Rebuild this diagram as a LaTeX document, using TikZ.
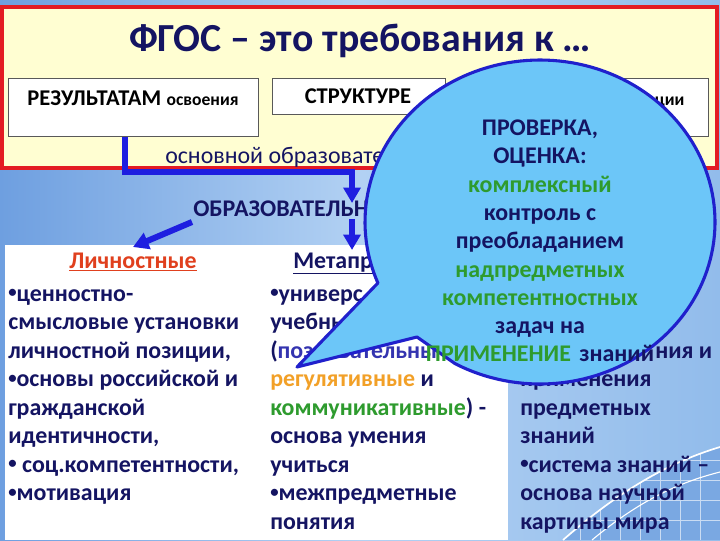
\documentclass[tikz,border=0pt]{standalone}
\usepackage{fontspec}
\setmainfont{Carlito}
\usepackage{xcolor}
\usetikzlibrary{arrows.meta}
\definecolor{navytext}{HTML}{141462}
\definecolor{greentext}{HTML}{2E9B2E}
\definecolor{orangetext}{HTML}{F2A027}
\definecolor{redtext}{HTML}{E0401E}
\definecolor{cogtext}{HTML}{3434B0}
\definecolor{arrowblue}{HTML}{1E1EE0}
\definecolor{callfill}{HTML}{6CC6F8}
\definecolor{callline}{HTML}{2020CC}
\definecolor{paleyellow}{HTML}{FFFED2}
\definecolor{framered}{HTML}{E31B23}
\definecolor{bgleft}{HTML}{6E9FE0}
\definecolor{bgmid}{HTML}{B2D1F3}
\definecolor{bgright}{HTML}{92BCEB}
\definecolor{bgdeep}{HTML}{7AA8E2}
\newcommand{\dotb}{\raisebox{0.3ex}{\scalebox{0.7}{•}}}

\begin{document}
\begin{tikzpicture}[x=0.025cm,y=-0.025cm,
  txt/.style={font=\fontsize{17}{20}\selectfont\bfseries,text=navytext,inner sep=0pt},
  whitebox/.style={draw=gray!70!black,fill=white,line width=0.6pt,inner sep=0pt,anchor=north west},
  bluearrow/.style={draw=arrowblue,line width=4.3pt,-{Triangle[width=12pt,length=11pt]}},
  gridline/.style={draw=white!60!bgdeep,line width=0.4pt}]
\useasboundingbox (0,0) rectangle (720,540);
% background
\shade[left color=bgleft,right color=bgright,middle color=bgmid] (0,0) rectangle (720,540);
\fill[bgdeep] (563,540) .. controls (620,490) and (670,462) .. (720,447) -- (720,540) -- cycle;
\begin{scope}
\clip (563,540) .. controls (620,490) and (670,462) .. (720,447) -- (720,540) -- cycle;
\foreach \x in {580,600,...,720} \draw[gridline] (\x,420) -- (\x,540);
\foreach \y in {440,460,...,540} \draw[gridline] (540,\y) -- (720,\y);
\end{scope}
\draw[white,line width=1.2pt] (563,540) .. controls (620,490) and (670,462) .. (720,447);
\draw[white,line width=0.8pt] (592,540) .. controls (640,500) and (680,482) .. (720,472);
\fill[white] (5,245) rectangle (508,540);
% requirements frame
\draw[framered,line width=2.2pt,fill=paleyellow] (2,7) rectangle (717,168);
\node[txt,font=\fontsize{28.3}{32}\selectfont\bfseries,anchor=base] (title) at (360,51) {ФГОС – это требования к …};
\node[whitebox,minimum width=6.25cm,minimum height=1.45cm] (resbox) at (8,78) {};
\node[whitebox,minimum width=4.325cm,minimum height=0.9cm] (strbox) at (272,78) {};
\node[whitebox,minimum width=6.3cm,minimum height=1.45cm] (condbox) at (456,78) {};
\node[txt,text=black,anchor=base] (restxt) at (133,105) {{\fontsize{16}{19}\selectfont РЕЗУЛЬТАТАМ} {\fontsize{12.5}{15}\selectfont освоения}};
\node[txt,text=black,font=\fontsize{16}{19}\selectfont\bfseries,anchor=base] (strtxt) at (358,103) {СТРУКТУРЕ};
\node[txt,text=black,font=\fontsize{12.5}{15}\selectfont\bfseries,anchor=base west] (condtxt) at (646,105) {ации};
\node[txt,font=\fontsize{17}{20}\selectfont,anchor=base west] (oop) at (165,163) {основной образовате};
% results
\node[txt,anchor=base west] (edu) at (193,216) {ОБРАЗОВАТЕЛЬН};
\coordinate (eduin) at (352,203);
\coordinate (eduout) at (352,219);
\coordinate (metain) at (352,250);
\coordinate (eduleft) at (192,222);
\coordinate (lichin) at (133,247);
\draw[bluearrow] ([xshift=-0.2cm]resbox.south) |- (352,172) -- (eduin);
\draw[bluearrow] (eduout) -- (metain);
\draw[bluearrow] (eduleft) -- (lichin);
% columns
\node[txt,text=redtext,anchor=base] (lich) at (133,268) {\underline{Личностные}};
\node[txt,anchor=base west] (meta) at (293,268) {\underline{Метапр}};
\foreach \t [count=\i] in {\dotb ценностно-,смысловые установки,{личностной позиции,},\dotb основы российской и,гражданской,{идентичности,},{\dotb\ соц.компетентности,},\dotb мотивация}
  \node[txt,anchor=base west] (lich\i) at (8,{301+28.5*(\i-1)}) {\t};
\foreach \t [count=\i] in {\dotb универс,учебны,{(\textcolor{cogtext}{познавательны}},{\textcolor{orangetext}{регулятивные} и},{\textcolor{greentext}{коммуникативные}) -},основа умения,учиться,\dotb межпредметные,понятия}
  \node[txt,anchor=base west] (meta\i) at (270,{301+28.5*(\i-1)}) {\t};
\node[txt,anchor=base west] (subj3) at (655,{301+28.5*2}) {ния и};
\foreach \t [count=\i from 4] in {применения,предметных,знаний,\dotb система знаний –,основа научной,картины мира}
  \node[txt,anchor=base west] (subj\i) at (520,{301+28.5*(\i-1)}) {\t};
% callout
\draw[callline,line width=2.2pt,fill=callfill,line join=round]
  plot[domain=-202.12:119.06,samples=150] ({540+175*cos(\x)},{222+162*sin(\x)})
  -- (417,337) -- (297,367) -- cycle;
\foreach \c/\t [count=\i] in {navytext/{ПРОВЕРКА,},navytext/ОЦЕНКА:,greentext/комплексный,navytext/контроль с,navytext/преобладанием,greentext/надпредметных,greentext/компетентностных,navytext/задач на}
  \node[txt,text=\c,anchor=base] (chk\i) at (540,{135.5+28.3*(\i-1)}) {\t};
\node[txt,anchor=base] (chk9) at (540,{135.5+28.3*8}) {\textcolor{greentext}{ПРИМЕНЕНИЕ}\hspace{6pt}знаний};
\end{tikzpicture}
\end{document}
